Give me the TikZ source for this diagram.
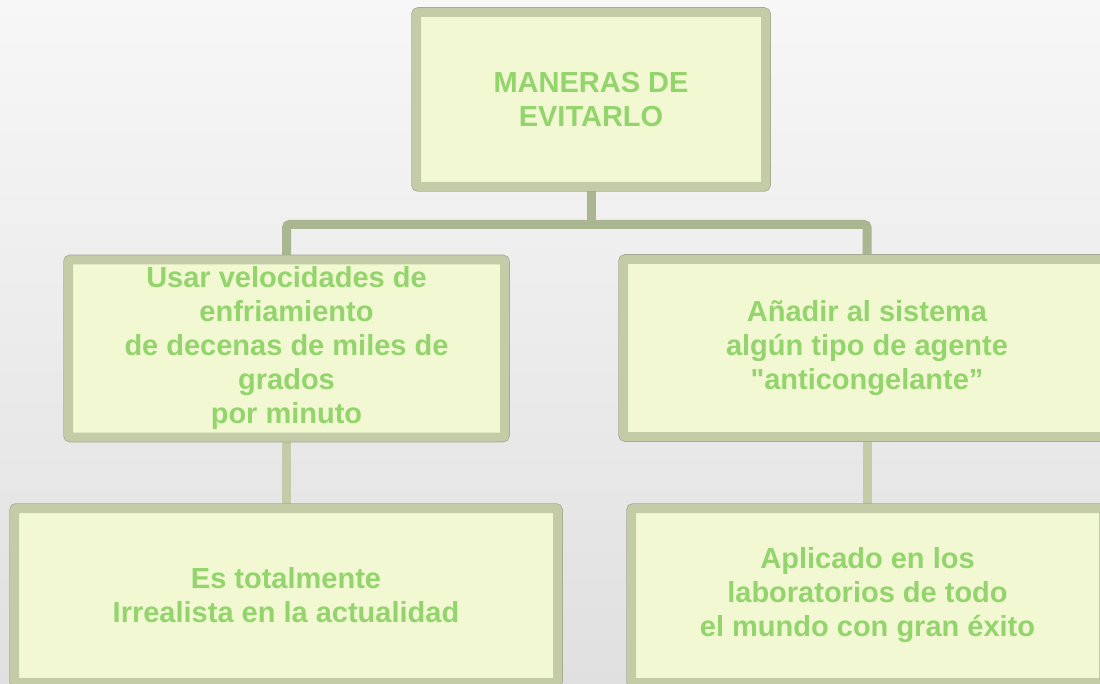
\documentclass[tikz,border=0pt]{standalone}
\usepackage{fontspec}
\setmainfont{Liberation Sans}[Ligatures=TeXOff]
\usetikzlibrary{calc}
\definecolor{boxfill}{HTML}{F1F8D2}
\definecolor{boxborder}{HTML}{C3CCA6}
\definecolor{boxedge}{HTML}{A3A990}
\definecolor{bartop}{HTML}{AAB68F}
\definecolor{txtgreen}{HTML}{93D46C}
\definecolor{bgtop}{HTML}{F7F7F7}
\definecolor{bgbot}{HTML}{E0E0E0}
\pgfdeclarelayer{bg}
\pgfdeclarelayer{conn}
\pgfsetlayers{bg,conn,main}
\tikzset{
  box/.style={draw=boxborder, line width=9pt, fill=boxfill, rounded corners=2pt,
    preaction={draw=boxedge, line width=10.5pt},
    inner sep=0pt, align=center, text=txtgreen,
    font=\fontsize{29}{34}\selectfont\bfseries},
  barline/.style={draw=bartop, line width=9pt, rounded corners=3pt},
  lowline/.style={draw=boxborder, line width=9pt},
}
\begin{document}
\begin{tikzpicture}[x=1pt,y=-1pt]
\useasboundingbox (0,0) rectangle (1100,684);
\begin{pgfonlayer}{bg}
\shade[top color=bgtop, bottom color=bgbot] (0,0) rectangle (1100,684);
\end{pgfonlayer}
\node[box, minimum width=349pt, minimum height=174pt] (top) at (591,99.5) {MANERAS DE\\EVITARLO};
\node[box, minimum width=436pt, minimum height=177pt] (ml) at (286.5,348.5) {Usar velocidades de\\enfriamiento\\de decenas de miles de\\grados\\por minuto};
\node[box, minimum width=487pt, minimum height=177pt] (mr) at (867,348) {Añadir al sistema\\algún tipo de agente\\"anticongelante”};
\node[box, minimum width=543pt, minimum height=174pt] (bl) at (286,595.5) {Es totalmente\\Irrealista en la actualidad};
\node[box, minimum width=472pt, minimum height=174pt] (br) at (867.5,595.5) {Aplicado en los\\laboratorios de todo\\el mundo con gran éxito};
\coordinate (jn) at (591,224.5);
\begin{pgfonlayer}{conn}
\draw[barline] (top.south) -- (jn);
\draw[barline] (ml.north) |- (jn) -| (mr.north);
\draw[lowline] (ml.south) -- (ml.south |- bl.north);
\draw[lowline] (mr.south) -- (mr.south |- br.north);
\end{pgfonlayer}
\end{tikzpicture}
\end{document}
